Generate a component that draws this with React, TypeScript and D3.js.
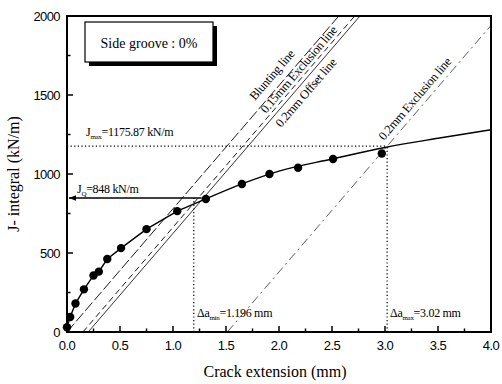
import { useEffect, useRef } from 'react';
import * as d3 from 'd3';

// measured points (crack extension mm, J kN/m)
const CRACK = [0.0, 0.03, 0.08, 0.16, 0.25, 0.3, 0.38, 0.51, 0.75, 1.04, 1.31, 1.65, 1.91, 2.18, 2.51, 2.97];
const JVAL = [30, 95, 180, 270, 358, 382, 462, 531, 651, 765, 842, 937, 1000, 1040, 1095, 1130];

// fitted R-curve beyond Jq
const FIT_X = [1.31, 1.65, 2.0, 2.5, 3.0, 3.5, 4.0];
const FIT_J = [842, 937, 1018, 1095, 1168, 1226, 1280];

const X_TICKS = [0, 0.5, 1, 1.5, 2, 2.5, 3, 3.5, 4];
const Y_TICKS = [0, 500, 1000, 1500, 2000];

const BLUNT_SLOPE = 780;
const J_Q = 848;
const J_MAX = 1175.87;
const DA_MIN = 1.196;
const DA_MAX = 3.02;

const W = 502;
const H = 384;
const M = { left: 67, right: 11, top: 16, bottom: 52 };

const App = () => {
  const svgRef = useRef<SVGSVGElement>(null);

  useEffect(() => {
    document.body.style.margin = '0';
    const svg = d3.select(svgRef.current);
    svg.selectAll('*').remove();
    svg.attr('width', W).attr('height', H);

    const x = d3.scaleLinear().domain([0, 4]).range([M.left, W - M.right]);
    const y = d3.scaleLinear().domain([0, 2000]).range([H - M.bottom, M.top]);
    const serif = '"Liberation Serif", "Times New Roman", serif';
    const sans = '"Liberation Sans", Arial, sans-serif';

    const defs = svg.append('defs');
    defs.append('clipPath').attr('id', 'plot')
      .append('rect').attr('x', x(0)).attr('y', y(2000))
      .attr('width', x(4) - x(0)).attr('height', y(0) - y(2000));
    defs.append('marker').attr('id', 'arrow').attr('viewBox', '0 0 10 10')
      .attr('refX', 10).attr('refY', 5).attr('markerWidth', 5).attr('markerHeight', 5)
      .attr('orient', 'auto')
      .append('path').attr('d', 'M0,1 L10,5 L0,9 Z').attr('fill', '#000');

    const plot = svg.append('g').attr('clip-path', 'url(#plot)');

    // construction lines parallel to the blunting line
    const parallel = (off: number, dash: string, w: number, color = '#000') => {
      plot.append('line')
        .attr('x1', x(off)).attr('y1', y(0))
        .attr('x2', x(off + 2100 / BLUNT_SLOPE)).attr('y2', y(2100))
        .attr('stroke', color).attr('stroke-width', w).attr('stroke-dasharray', dash);
    };
    parallel(0, '11,3', 0.9);
    parallel(0.15, '6,4', 0.9);
    parallel(0.2, 'none', 0.8);
    parallel(DA_MAX - J_MAX / BLUNT_SLOPE, '9,4,2,4', 0.8, '#333');

    // dotted guides
    const dotted = (x1: number, y1: number, x2: number, y2: number) =>
      plot.append('line').attr('x1', x(x1)).attr('y1', y(y1)).attr('x2', x(x2)).attr('y2', y(y2))
        .attr('stroke', '#000').attr('stroke-width', 1.2).attr('stroke-dasharray', '1.2,2.4');
    dotted(0, J_MAX, DA_MAX, J_MAX);
    dotted(DA_MAX, 0, DA_MAX, J_MAX);
    dotted(DA_MIN, 0, DA_MIN, J_Q);

    // Jq arrow
    svg.append('line')
      .attr('x1', x(1.27)).attr('y1', y(J_Q)).attr('x2', x(0) + 2).attr('y2', y(J_Q))
      .attr('stroke', '#000').attr('stroke-width', 1.4).attr('marker-end', 'url(#arrow)');

    // data curve
    const pts = CRACK.map((c, i) => [c, JVAL[i]] as [number, number]);
    const line = d3.line<[number, number]>().x(d => x(d[0])).y(d => y(d[1]));
    plot.append('path').datum(pts.filter(p => p[0] <= 1.31))
      .attr('d', line).attr('fill', 'none').attr('stroke', '#000').attr('stroke-width', 1.4);
    plot.append('path').datum(FIT_X.map((c, i) => [c, FIT_J[i]] as [number, number]))
      .attr('d', line.curve(d3.curveMonotoneX)).attr('fill', 'none').attr('stroke', '#000').attr('stroke-width', 1.4);

    svg.append('g').selectAll('circle').data(pts).enter().append('circle')
      .attr('cx', d => x(d[0])).attr('cy', d => y(d[1])).attr('r', 4.2).attr('fill', '#000');

    // frame
    svg.append('rect').attr('x', x(0)).attr('y', y(2000))
      .attr('width', x(4) - x(0)).attr('height', y(0) - y(2000))
      .attr('fill', 'none').attr('stroke', '#000').attr('stroke-width', 2);

    // inward ticks
    const ticks = svg.append('g').attr('stroke', '#000').attr('stroke-width', 1.5);
    d3.range(0, 4.01, 0.25).forEach(v => {
      const major = Math.abs(v * 2 - Math.round(v * 2)) < 1e-6;
      ticks.append('line').attr('x1', x(v)).attr('x2', x(v))
        .attr('y1', y(0)).attr('y2', y(0) - (major ? 6 : 3.5));
    });
    d3.range(0, 2001, 250).forEach(v => {
      const major = v % 500 === 0;
      ticks.append('line').attr('y1', y(v)).attr('y2', y(v))
        .attr('x1', x(0)).attr('x2', x(0) + (major ? 6 : 3.5));
    });

    svg.append('g').selectAll('text').data(X_TICKS).enter().append('text')
      .attr('x', d => x(d)).attr('y', y(0) + 18).attr('text-anchor', 'middle')
      .attr('font-family', sans).attr('font-size', 13).attr('letter-spacing', -0.6)
      .text(d => d.toFixed(1));
    svg.append('g').selectAll('text').data(Y_TICKS).enter().append('text')
      .attr('x', x(0) - 7).attr('y', d => y(d) + 5).attr('text-anchor', 'end')
      .attr('font-family', sans).attr('font-size', 13).attr('letter-spacing', -0.6)
      .text(d => d);

    // axis titles
    svg.append('text').attr('x', (x(0) + x(4)) / 2 - 4).attr('y', H - 7)
      .attr('text-anchor', 'middle').attr('font-family', serif).attr('font-size', 16)
      .text('Crack extension (mm)');
    svg.append('text').attr('transform', `translate(19,${(y(0) + y(2000)) / 2}) rotate(-90)`)
      .attr('text-anchor', 'middle').attr('font-family', serif).attr('font-size', 16)
      .text('J- integral (kN/m)');

    // label box
    svg.append('rect').attr('x', 89).attr('y', 26).attr('width', 128).attr('height', 40).attr('fill', '#000');
    svg.append('rect').attr('x', 85).attr('y', 22).attr('width', 128).attr('height', 40)
      .attr('fill', '#fff').attr('stroke', '#000').attr('stroke-width', 1.2);
    svg.append('text').attr('x', 149).attr('y', 48).attr('text-anchor', 'middle')
      .attr('font-family', serif).attr('font-size', 14).text('Side groove : 0%');

    // annotations with subscripts
    const sub = (px: number, py: number, main: string, s: string, rest: string) => {
      const t = svg.append('text').attr('x', px).attr('y', py)
        .attr('font-family', serif).attr('font-size', 12).attr('letter-spacing', -0.3);
      t.append('tspan').text(main);
      t.append('tspan').attr('dy', 3).attr('font-size', 7).text(s);
      t.append('tspan').attr('dy', -3).text(rest);
    };
    sub(86, 136, 'J', 'max', '=1175.87 kN/m');
    sub(77, 193, 'J', 'Q', '=848 kN/m');
    sub(197, 317, 'Δa', 'min', '=1.196 mm');
    sub(390, 317, 'Δa', 'max', '=3.02 mm');

    // labels along the lines
    const ang = -Math.atan((y(0) - y(BLUNT_SLOPE)) / (x(1) - x(0))) * 180 / Math.PI;
    const along = (px: number, py: number, label: string) =>
      svg.append('text').attr('transform', `translate(${px},${py}) rotate(${ang})`)
        .attr('font-family', serif).attr('font-size', 12.5).attr('letter-spacing', -0.3).text(label);
    along(255, 101, 'Blunting line');
    along(266, 114, '0.15mm Exclusion line');
    along(281, 128, '0.2mm Offset line');
    along(384, 141, '0.2mm Exclusion line');
  }, []);

  return (
    <div style={{ position: 'absolute', left: 0, top: 0 }}>
      <svg ref={svgRef} />
    </div>
  );
};

export default App;
